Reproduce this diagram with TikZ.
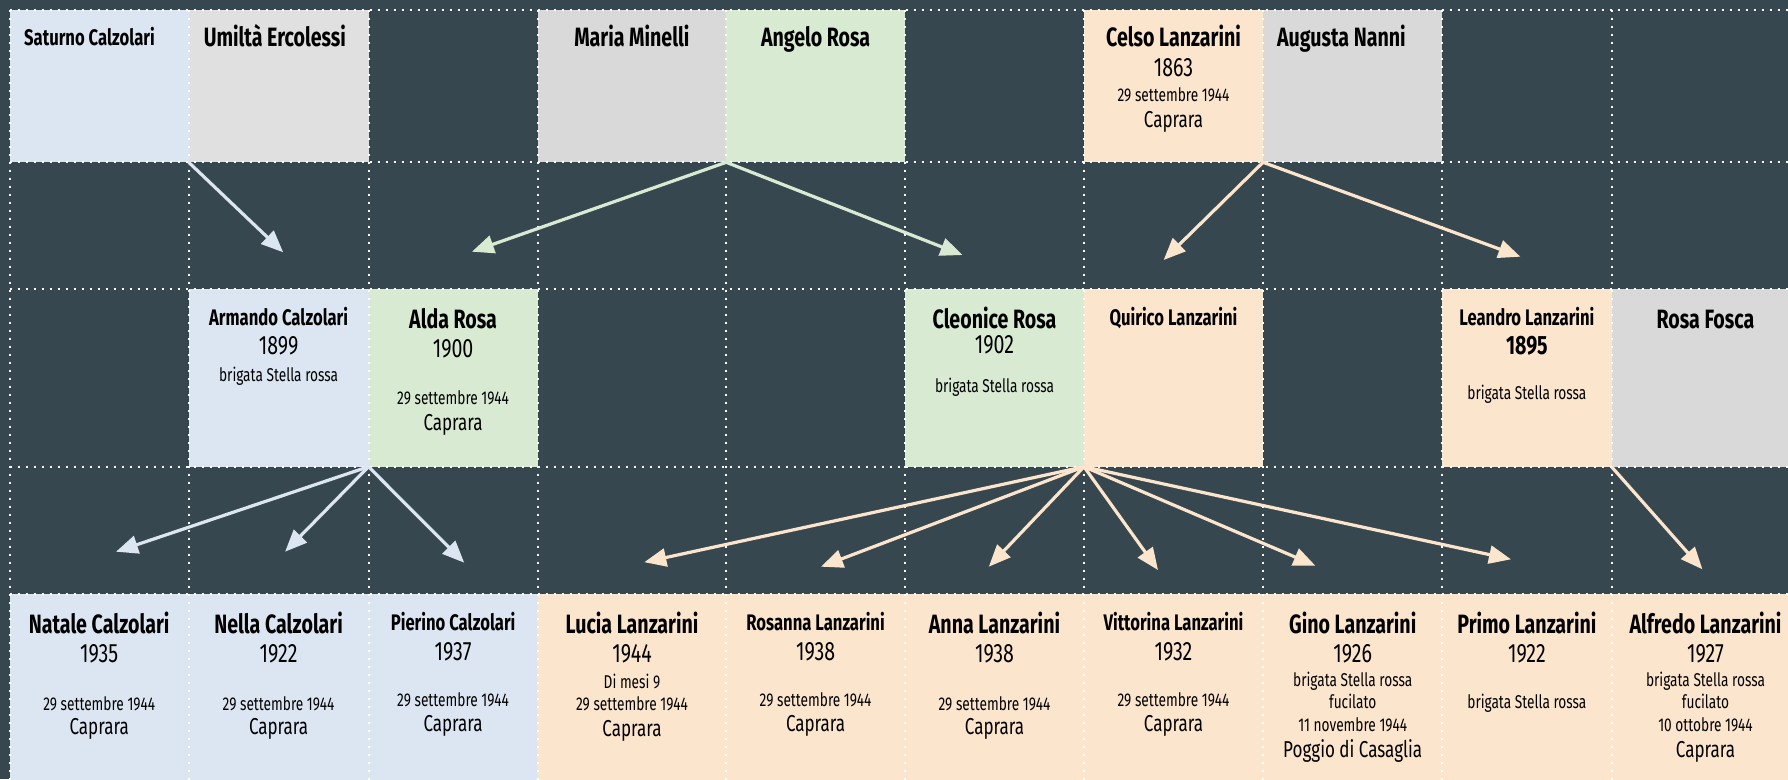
\documentclass[tikz,border=0pt]{standalone}
\usepackage{fontspec}
\setmainfont{Fira Sans}[FakeStretch=0.74]
\usetikzlibrary{arrows.meta}

\definecolor{board}{HTML}{37474F}
\definecolor{cblue}{HTML}{DCE6F2}
\definecolor{cgreen}{HTML}{D9EAD3}
\definecolor{corange}{HTML}{FCE5CD}
\definecolor{cgrey}{HTML}{D9D9D9}
\definecolor{cgreyl}{HTML}{E0E0E0}

\tikzset{
  cell/.style={anchor=north west, inner sep=0pt, outer sep=0pt},
  grid line/.style={white, line width=2pt, dash pattern=on 2pt off 6pt},
  kid/.style={-{Triangle[length=22pt,width=18pt]}, line width=3.2pt},
  txt/.style={anchor=base, inner sep=0pt, text=black},
  bigname/.style={txt, font=\fontsize{26.5}{31}\selectfont\bfseries},
  smallname/.style={txt, font=\fontsize{22.5}{27}\selectfont\bfseries},
  yearline/.style={txt, font=\fontsize{26.5}{31}\selectfont},
  placeline/.style={txt, font=\fontsize{23}{28}\selectfont},
  noteline/.style={txt, font=\fontsize{18.5}{22}\selectfont},
}

\begin{document}
\begin{tikzpicture}[x=1pt, y=-1pt]
  \clip (0,0) rectangle (1788,779);
  \fill[board] (0,0) rectangle (1788,779);

  % generation 1
  \node[cell, fill=cblue, minimum width=179.1pt, minimum height=152.8pt] (saturno) at (9.6,9.5) {};
  \node[cell, fill=cgreyl, minimum width=179.8pt, minimum height=152.8pt] (umilta) at (188.7,9.5) {};
  \node[cell, fill=cgrey, minimum width=188.5pt, minimum height=152.8pt] (maria) at (537.7,9.5) {};
  \node[cell, fill=cgreen, minimum width=178.8pt, minimum height=152.8pt] (angelo) at (726.2,9.5) {};
  \node[cell, fill=corange, minimum width=179pt, minimum height=152.8pt] (celso) at (1084,9.5) {};
  \node[cell, fill=cgrey, minimum width=179.3pt, minimum height=152.8pt] (augusta) at (1263,9.5) {};

  % generation 2
  \node[cell, fill=cblue, minimum width=179.8pt, minimum height=177.4pt] (armando) at (188.7,289.3) {};
  \node[cell, fill=cgreen, minimum width=169.2pt, minimum height=177.4pt] (alda) at (368.5,289.3) {};
  \node[cell, fill=cgreen, minimum width=179pt, minimum height=177.4pt] (cleonice) at (905,289.3) {};
  \node[cell, fill=corange, minimum width=179pt, minimum height=177.4pt] (quirico) at (1084,289.3) {};
  \node[cell, fill=corange, minimum width=169.2pt, minimum height=177.4pt] (leandro) at (1442.3,289.3) {};
  \node[cell, fill=cgrey, minimum width=188pt, minimum height=177.4pt] (fosca) at (1611.5,289.3) {};

  % generation 3
  \node[cell, fill=cblue, minimum width=179.1pt, minimum height=196pt] (natale) at (9.6,593.5) {};
  \node[cell, fill=cblue, minimum width=179.8pt, minimum height=196pt] (nella) at (188.7,593.5) {};
  \node[cell, fill=cblue, minimum width=169.2pt, minimum height=196pt] (pierino) at (368.5,593.5) {};
  \node[cell, fill=corange, minimum width=188.5pt, minimum height=196pt] (lucia) at (537.7,593.5) {};
  \node[cell, fill=corange, minimum width=178.8pt, minimum height=196pt] (rosanna) at (726.2,593.5) {};
  \node[cell, fill=corange, minimum width=179pt, minimum height=196pt] (anna) at (905,593.5) {};
  \node[cell, fill=corange, minimum width=179pt, minimum height=196pt] (vittorina) at (1084,593.5) {};
  \node[cell, fill=corange, minimum width=179.3pt, minimum height=196pt] (gino) at (1263,593.5) {};
  \node[cell, fill=corange, minimum width=169.2pt, minimum height=196pt] (primo) at (1442.3,593.5) {};
  \node[cell, fill=corange, minimum width=188pt, minimum height=196pt] (alfredo) at (1611.5,593.5) {};

  % dotted table grid
  \foreach \x in {9.6,188.7,368.5,537.7,726.2,905,1084,1263,1442.3,1611.5}
    \draw[grid line] (\x,9.5) -- (\x,790);
  \foreach \y in {9.5,162.3,289.3,466.7,593.5}
    \draw[grid line] (9.6,\y) -- (1800,\y);

  % arrow tips
  \coordinate (to-armando) at (283.2,252.3);
  \coordinate (to-alda) at (471.9,251.7);
  \coordinate (to-cleonice) at (962.4,255);
  \coordinate (to-quirico) at (1163.6,260);
  \coordinate (to-leandro) at (1520.4,256.7);
  \coordinate (to-natale) at (116,551.7);
  \coordinate (to-nella) at (285.1,551.7);
  \coordinate (to-pierino) at (464.2,562.7);
  \coordinate (to-lucia) at (644.3,562.2);
  \coordinate (to-rosanna) at (821,566.7);
  \coordinate (to-anna) at (988.8,566.7);
  \coordinate (to-vittorina) at (1158,570);
  \coordinate (to-gino) at (1315.4,565.7);
  \coordinate (to-primo) at (1511,559.3);
  \coordinate (to-alfredo) at (1702.4,569.3);

  \draw[kid, cblue] (umilta.south west) -- (to-armando);
  \draw[kid, cgreen] (angelo.south west) -- (to-alda);
  \draw[kid, cgreen] (angelo.south west) -- (to-cleonice);
  \draw[kid, corange] (augusta.south west) -- (to-quirico);
  \draw[kid, corange] (augusta.south west) -- (to-leandro);
  \draw[kid, cblue] (alda.south west) -- (to-natale);
  \draw[kid, cblue] (alda.south west) -- (to-nella);
  \draw[kid, cblue] (alda.south west) -- (to-pierino);
  \draw[kid, corange] (quirico.south west) -- (to-lucia);
  \draw[kid, corange] (quirico.south west) -- (to-rosanna);
  \draw[kid, corange] (quirico.south west) -- (to-anna);
  \draw[kid, corange] (quirico.south west) -- (to-vittorina);
  \draw[kid, corange] (quirico.south west) -- (to-gino);
  \draw[kid, corange] (quirico.south west) -- (to-primo);
  \draw[kid, corange] (fosca.south west) -- (to-alfredo);

  % texts, generation 1
  \node[smallname, anchor=base west] (saturno-name) at (24,45) {Saturno Calzolari};
  \node[bigname, anchor=base west] (umilta-name) at (203.6,46.7) {Umiltà Ercolessi};
  \node[bigname] (maria-name) at (631.9,46.7) {Maria Minelli};
  \node[bigname] (angelo-name) at (815.6,46.7) {Angelo Rosa};
  \node[bigname] (celso-name) at (1173.5,46.7) {Celso Lanzarini};
  \node[yearline] (celso-year) at (1173.5,76.7) {1863};
  \node[noteline] (celso-date) at (1173.5,101.7) {29 settembre 1944};
  \node[placeline] (celso-place) at (1173.5,127.3) {Caprara};
  \node[bigname, anchor=base west] (augusta-name) at (1276.8,46.7) {Augusta Nanni};

  % texts, generation 2
  \node[smallname] (armando-name) at (278.6,325) {Armando Calzolari};
  \node[yearline] (armando-year) at (278.6,354) {1899};
  \node[noteline] (armando-note) at (278.6,381.7) {brigata Stella rossa};
  \node[bigname] (alda-name) at (453.1,328.3) {Alda Rosa};
  \node[yearline] (alda-year) at (453.1,357.3) {1900};
  \node[noteline] (alda-date) at (453.1,404) {29 settembre 1944};
  \node[placeline] (alda-place) at (453.1,430.7) {Caprara};
  \node[bigname] (cleonice-name) at (994.5,328.3) {Cleonice Rosa};
  \node[yearline] (cleonice-year) at (994.5,353.3) {1902};
  \node[noteline] (cleonice-note) at (994.5,392) {brigata Stella rossa};
  \node[smallname] (quirico-name) at (1173.5,325) {Quirico Lanzarini};
  \node[smallname] (leandro-name) at (1526.9,325) {Leandro Lanzarini};
  \node[yearline, font=\fontsize{26.5}{31}\selectfont\bfseries] (leandro-year) at (1526.9,354) {1895};
  \node[noteline] (leandro-note) at (1526.9,399) {brigata Stella rossa};
  \node[bigname] (fosca-name) at (1705.5,328.3) {Rosa Fosca};

  % texts, generation 3
  \node[bigname] (natale-name) at (99.2,633.3) {Natale Calzolari};
  \node[yearline] (natale-year) at (99.2,662.3) {1935};
  \node[noteline] (natale-date) at (99.2,710) {29 settembre 1944};
  \node[placeline] (natale-place) at (99.2,734) {Caprara};
  \node[bigname] (nella-name) at (278.6,633.3) {Nella Calzolari};
  \node[yearline] (nella-year) at (278.6,662.3) {1922};
  \node[noteline] (nella-date) at (278.6,710) {29 settembre 1944};
  \node[placeline] (nella-place) at (278.6,734) {Caprara};
  \node[smallname] (pierino-name) at (453.1,630) {Pierino Calzolari};
  \node[yearline] (pierino-year) at (453.1,660) {1937};
  \node[noteline] (pierino-date) at (453.1,706) {29 settembre 1944};
  \node[placeline] (pierino-place) at (453.1,731.7) {Caprara};
  \node[bigname] (lucia-name) at (632,633.3) {Lucia Lanzarini};
  \node[yearline] (lucia-year) at (632,662.3) {1944};
  \node[noteline] (lucia-age) at (632,688.3) {Di mesi 9};
  \node[noteline] (lucia-date) at (632,710) {29 settembre 1944};
  \node[placeline] (lucia-place) at (632,736) {Caprara};
  \node[smallname] (rosanna-name) at (815.6,630) {Rosanna Lanzarini};
  \node[yearline] (rosanna-year) at (815.6,660) {1938};
  \node[noteline] (rosanna-date) at (815.6,706) {29 settembre 1944};
  \node[placeline] (rosanna-place) at (815.6,731.7) {Caprara};
  \node[bigname] (anna-name) at (994.5,633.3) {Anna Lanzarini};
  \node[yearline] (anna-year) at (994.5,662.3) {1938};
  \node[noteline] (anna-date) at (994.5,710) {29 settembre 1944};
  \node[placeline] (anna-place) at (994.5,734) {Caprara};
  \node[smallname] (vittorina-name) at (1173.5,630) {Vittorina Lanzarini};
  \node[yearline] (vittorina-year) at (1173.5,660) {1932};
  \node[noteline] (vittorina-date) at (1173.5,706) {29 settembre 1944};
  \node[placeline] (vittorina-place) at (1173.5,731.7) {Caprara};
  \node[bigname] (gino-name) at (1352.7,633.3) {Gino Lanzarini};
  \node[yearline] (gino-year) at (1352.7,662.3) {1926};
  \node[noteline] (gino-note) at (1352.7,686) {brigata Stella rossa};
  \node[noteline] (gino-fate) at (1352.7,708.3) {fucilato};
  \node[noteline] (gino-date) at (1352.7,731.7) {11 novembre 1944};
  \node[placeline] (gino-place) at (1352.7,757.5) {Poggio di Casaglia};
  \node[bigname] (primo-name) at (1526.9,633.3) {Primo Lanzarini};
  \node[yearline] (primo-year) at (1526.9,662.3) {1922};
  \node[noteline] (primo-note) at (1526.9,708.3) {brigata Stella rossa};
  \node[bigname] (alfredo-name) at (1705.5,633.3) {Alfredo Lanzarini};
  \node[yearline] (alfredo-year) at (1705.5,662.3) {1927};
  \node[noteline] (alfredo-note) at (1705.5,686) {brigata Stella rossa};
  \node[noteline] (alfredo-fate) at (1705.5,708.3) {fucilato};
  \node[noteline] (alfredo-date) at (1705.5,731.7) {10 ottobre 1944};
  \node[placeline] (alfredo-place) at (1705.5,757.5) {Caprara};
\end{tikzpicture}
\end{document}
